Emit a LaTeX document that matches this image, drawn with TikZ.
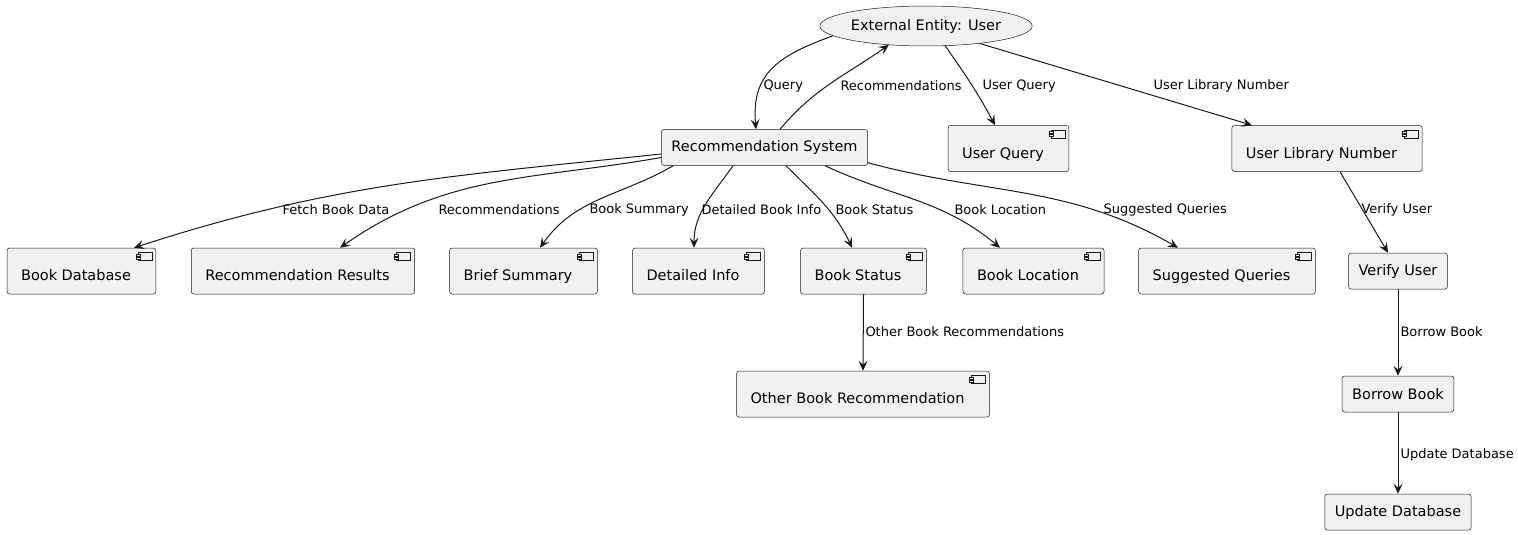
\documentclass[tikz,border=0pt]{standalone}
\usepackage{fontspec}
\setmainfont{DejaVu Sans}
\usetikzlibrary{arrows.meta,shapes.geometric}
\definecolor{uml}{HTML}{181818}
\definecolor{umlfill}{HTML}{F1F1F1}
\tikzset{
  box/.style={draw=uml, fill=umlfill, line width=0.5pt, rounded corners=2.5pt,
    font=\fontsize{14.5}{16}\selectfont},
  proc/.style={box, minimum height=36pt, inner xsep=10pt},
  comp/.style={box, minimum height=46pt, inner xsep=14pt, text height=20pt, text depth=1pt,
    execute at end node={\hspace*{11pt}},
    path picture={
      \draw[uml, fill=umlfill, line width=0.5pt, sharp corners]
        ([shift={(-18pt,-4.5pt)}]path picture bounding box.north east) rectangle
        ([shift={(-4pt,-12.5pt)}]path picture bounding box.north east);
      \draw[uml, fill=umlfill, line width=0.5pt, sharp corners]
        ([shift={(-20pt,-6pt)}]path picture bounding box.north east) rectangle ++(4pt,-2pt);
      \draw[uml, fill=umlfill, line width=0.5pt, sharp corners]
        ([shift={(-20pt,-9pt)}]path picture bounding box.north east) rectangle ++(4pt,-2pt);
    }},
  entity/.style={ellipse, draw=uml, fill=umlfill, line width=0.5pt, minimum width=186pt,
    minimum height=40pt, inner sep=0pt, font=\fontsize{14.5}{16}\selectfont},
  flow/.style={draw=uml, line width=1pt, -{Stealth[length=10pt,width=9pt,inset=4pt]}},
  lbl/.style={font=\fontsize{13}{15}\selectfont, inner sep=0pt, anchor=west, text=black}
}
\begin{document}
\begin{tikzpicture}[x=1pt,y=1pt]
\useasboundingbox (0,0) rectangle (1518,-535);
%\draw (0,0) rectangle (1518,-535);

\draw (926,-26) node[entity] (user) {External Entity: User};
\draw (764.5,-147.5) node[proc] (rs) {Recommendation System};
\draw (1008.5,-148.5) node[comp] (uq) {User Query};
\draw (1327,-148.5) node[comp] (uln) {User Library Number};

\draw (81.5,-271) node[comp] (bd) {Book Database};
\draw (303,-271) node[comp] (rr) {Recommendation Results};
\draw (523.5,-271) node[comp] (bs) {Brief Summary};
\draw (698.5,-271) node[comp] (di) {Detailed Info};
\draw (863.5,-271) node[comp] (bst) {Book Status};
\draw (1033.5,-271) node[comp] (bl) {Book Location};
\draw (1227,-271) node[comp] (sq) {Suggested Queries};
\draw (1398,-271) node[proc] (vu) {Verify User};

\draw (863,-394) node[comp] (obr) {Other Book Recommendation};
\draw (1398,-394) node[proc] (bb) {Borrow Book};
\draw (1398,-512) node[proc] (ud) {Update Database};

\draw[flow] (user.186) to[out=200,in=95,looseness=1.2] ([xshift=-8.5pt]rs.north)
  node[lbl] at (763,-86) {Query};
\draw[flow] ([xshift=15.5pt]rs.north) to[out=50,in=215] (user.207)
  node[lbl] at (840,-86) {Recommendations};
\draw[flow] (user.-46) to[out=-55,in=118] ([xshift=-13.5pt]uq.north)
  node[lbl] at (982,-86) {User Query};
\draw[flow] (user.-18) -- ([xshift=-75pt]uln.north)
  node[lbl] at (1153,-86) {User Library Number};

\draw[flow] ([yshift=-6.5pt]rs.west) to[out=186,in=18] ([xshift=52.5pt]bd.north)
  node[lbl] at (282,-210) {Fetch Book Data};
\draw[flow] ([yshift=-10pt]rs.west) to[out=190,in=35] ([xshift=37pt]rr.north)
  node[lbl] at (438,-210) {Recommendations};
\draw[flow] ([xshift=12pt]rs.south west) to[out=210,in=55] ([xshift=16.5pt]bs.north)
  node[lbl] at (589,-210) {Book Summary};
\draw[flow] ([xshift=-31.5pt]rs.south) to[out=235,in=90] ([xshift=-4.5pt]di.north)
  node[lbl] at (701,-210) {Detailed Book Info};
\draw[flow] ([xshift=21.5pt]rs.south) to[out=-45,in=115] ([xshift=-11.5pt]bst.north)
  node[lbl] at (835,-210) {Book Status};
\draw[flow] ([xshift=60.5pt]rs.south) to[out=-25,in=140] ([xshift=-33.5pt]bl.north)
  node[lbl] at (954,-210) {Book Location};
\draw[flow] ([yshift=3pt]rs.south east) to[out=-15,in=150] ([xshift=-49pt]sq.north)
  node[lbl] at (1103,-210) {Suggested Queries};

\draw[flow] ([xshift=13pt]uln.south) -- ([xshift=-10pt]vu.north)
  node[lbl] at (1361,-210) {Verify User};
\draw[flow] (vu) -- (bb) node[lbl] at (1400,-332) {Borrow Book};
\draw[flow] (bb) -- (ud) node[lbl] at (1400,-455) {Update Database};
\draw[flow] (bst.south) -- (obr.north) node[lbl] at (865,-332) {Other Book Recommendations};
\end{tikzpicture}
\end{document}
